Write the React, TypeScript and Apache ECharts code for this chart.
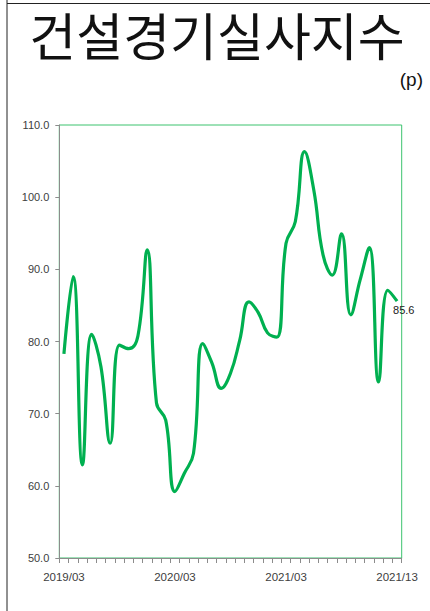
import React, { useEffect, useRef } from "react";
import * as echarts from "echarts";

const categories: string[] = [
  "2019/03", "2019/04", "2019/05", "2019/06", "2019/07", "2019/08", "2019/09", "2019/10", "2019/11", "2019/12",
  "2020/01", "2020/02", "2020/03", "2020/04", "2020/05", "2020/06", "2020/07", "2020/08", "2020/09", "2020/10",
  "2020/11", "2020/12", "2021/01", "2021/02", "2021/03", "2021/04", "2021/05", "2021/06", "2021/07", "2021/08",
  "2021/09", "2021/10", "2021/11", "2021/12", "2022/01", "2022/02", "2021/13",
];

const bsiValues: number[] = [
  78.3, 89.0, 62.9, 81.0, 76.5, 65.9, 79.5, 79.0, 80.8, 92.7,
  71.5, 69.1, 59.2, 61.7, 64.5, 79.7, 77.0, 73.5, 75.6, 80.2,
  85.5, 84.0, 81.2, 80.6, 93.6, 96.6, 106.3, 101.0, 92.0, 89.2,
  94.9, 83.7, 88.5, 93.0, 74.4, 87.1, 85.6,
];

const yMin = 50;
const yMax = 110;
const yStep = 10;

const titleText = "건설경기실사지수";
const unitText = "(p)";

export default function App() {
  const ref = useRef<HTMLDivElement>(null);
  useEffect(() => {
    if (!ref.current) return;
    const chart = echarts.init(ref.current, undefined, { renderer: "svg" });
    const green = "#00B050";
    const labelColor = "#404040";
    chart.setOption({
      animation: false,
      backgroundColor: "#ffffff",
      grid: {
        left: 59.3,
        top: 125,
        right: 28.3,
        bottom: 53,
        show: true,
        borderColor: "#3CC36E",
        borderWidth: 1,
        backgroundColor: "transparent",
      },
      xAxis: {
        type: "category",
        data: categories,
        boundaryGap: true,
        axisLine: { show: true, lineStyle: { color: "#8C8C8C", width: 1 } },
        axisTick: {
          show: true,
          interval: 0,
          length: 5,
          lineStyle: { color: "#8C8C8C" },
        },
        axisLabel: {
          interval: (i: number) => i % 12 === 0,
          margin: 13,
          color: labelColor,
          fontSize: 11.5,
          fontFamily: "Liberation Sans, Arial, sans-serif",
        },
        splitLine: { show: false },
      },
      yAxis: {
        type: "value",
        min: yMin,
        max: yMax,
        interval: yStep,
        axisLine: { show: true, lineStyle: { color: "#8C8C8C", width: 1 } },
        axisTick: { show: true, length: 4, lineStyle: { color: "#8C8C8C" } },
        axisLabel: {
          margin: 10,
          color: labelColor,
          fontSize: 11,
          fontFamily: "Liberation Sans, Arial, sans-serif",
          formatter: (v: number) => v.toFixed(1),
        },
        splitLine: { show: false },
      },
      series: [
        {
          type: "line",
          data: bsiValues,
          smooth: 0.45,
          showSymbol: false,
          symbol: "none",
          lineStyle: { color: green, width: 3.2 },
          endLabel: {
            show: true,
            formatter: (p: any) => Number(p.value).toFixed(1),
            color: "#202020",
            fontSize: 11,
            fontFamily: "Liberation Sans, Arial, sans-serif",
            distance: 0,
            offset: [-4, 9],
          },
        },
      ],
      graphic: [
        {
          type: "line",
          shape: { x1: 7, y1: 0, x2: 7, y2: 611 },
          style: { stroke: "#222222", lineWidth: 1 },
        },
        {
          type: "line",
          shape: { x1: 7, y1: 3.5, x2: 430, y2: 3.5 },
          style: { stroke: "#222222", lineWidth: 1 },
        },
        {
          type: "text",
          x: 217,
          y: 34,
          style: {
            text: titleText,
            fill: "#111111",
            fontSize: 51,
            lineHeight: 51,
            fontFamily: "Noto Sans CJK KR, sans-serif",
            fontWeight: "normal",
            align: "center",
            verticalAlign: "middle",
          },
        },
        {
          type: "text",
          x: 423,
          y: 79,
          style: {
            text: unitText,
            fill: "#111111",
            fontSize: 19,
            fontFamily: "Liberation Sans, Arial, sans-serif",
            align: "right",
            verticalAlign: "middle",
          },
        },
      ],
    });
    return () => chart.dispose();
  }, []);
  return (
    <div
      ref={ref}
      style={{ position: "fixed", left: 0, top: 0, width: 430, height: 611, background: "#fff" }}
    />
  );
}
